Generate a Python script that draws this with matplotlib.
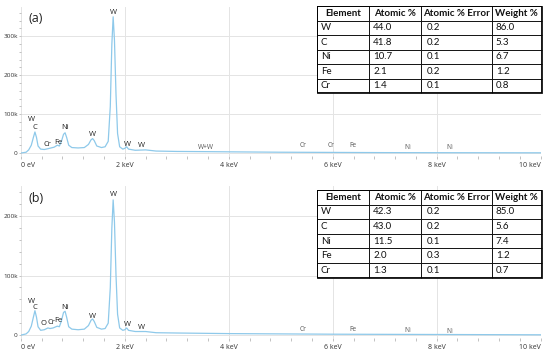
import numpy as np
import matplotlib
matplotlib.use("Agg")
import matplotlib.pyplot as plt
from matplotlib.patches import Rectangle

plt.rcParams['font.family'] = ['Open Sans', 'DejaVu Sans']

# ---- spectrum (a): energy in keV, counts in thousands
energy_a = [0.0, 0.1, 0.15, 0.2, 0.24, 0.27, 0.30, 0.33, 0.38, 0.45, 0.52, 0.58, 0.64,
            0.70, 0.74, 0.78, 0.82, 0.85, 0.88, 0.92, 0.98, 1.10, 1.22, 1.30, 1.35,
            1.38, 1.41, 1.46, 1.55, 1.62, 1.68, 1.72, 1.75, 1.775, 1.80, 1.83, 1.86,
            1.90, 1.96, 2.00, 2.035, 2.07, 2.2, 2.4, 2.6, 3.0, 3.55, 4.0, 5.0, 6.0,
            7.0, 8.0, 10.0]
counts_a = [0, 2, 8, 20, 40, 54, 40, 18, 10, 9, 11, 13, 15,
            20, 18, 30, 48, 52, 40, 20, 14, 13, 14, 22, 34,
            37, 32, 18, 14, 16, 30, 120, 280, 350, 290, 150, 50,
            16, 10, 12, 16, 10, 7, 8, 5, 4, 3.5, 3, 2, 1.5,
            1, 0.8, 0.5]

# ---- spectrum (b)
energy_b = [0.0, 0.1, 0.15, 0.2, 0.24, 0.27, 0.30, 0.33, 0.38, 0.45, 0.52, 0.56, 0.62,
            0.70, 0.74, 0.78, 0.82, 0.85, 0.88, 0.92, 0.98, 1.10, 1.22, 1.30, 1.35,
            1.38, 1.41, 1.46, 1.55, 1.62, 1.68, 1.72, 1.75, 1.775, 1.80, 1.83, 1.86,
            1.90, 1.96, 2.00, 2.035, 2.07, 2.2, 2.4, 2.6, 3.0, 4.0, 5.0, 6.0,
            8.0, 10.0]
counts_b = [0, 2, 6, 15, 30, 41, 30, 14, 8, 9, 12, 11, 12,
            15, 14, 24, 38, 40, 30, 14, 10, 9, 10, 16, 25,
            27, 23, 13, 10, 11, 20, 80, 180, 227, 190, 100, 35,
            12, 8, 9, 12, 8, 6, 6, 4, 3.5, 2.5, 2, 1.5,
            1, 0.5]

# ---- peak labels: text, keV, k counts, minor?
labels_a = [("W", 0.21, 85, 0), ("C", 0.27, 66, 0), ("Cr", 0.52, 23, 0), ("Fe", 0.72, 27, 0),
            ("Ni", 0.85, 66, 0), ("W", 1.38, 48, 0), ("W", 1.78, 360, 0), ("W", 2.05, 22, 0),
            ("W", 2.32, 18, 0), ("W+W", 3.56, 15, 1), ("Cr", 5.42, 19, 1), ("Cr", 5.96, 19, 1),
            ("Fe", 6.38, 19, 1), ("Ni", 7.44, 15, 1), ("Ni", 8.25, 15, 1)]
labels_b = [("W", 0.21, 57, 0), ("C", 0.27, 46, 0), ("O", 0.44, 20, 0), ("Cr", 0.58, 21, 0),
            ("Fe", 0.72, 24, 0), ("Ni", 0.85, 46, 0), ("W", 1.38, 32, 0), ("W", 1.78, 236, 0),
            ("W", 2.05, 17, 0), ("W", 2.32, 12, 0), ("Cr", 5.42, 10, 1),
            ("Fe", 6.38, 10, 1), ("Ni", 7.44, 8, 1), ("Ni", 8.25, 6, 1)]

# ---- tables
col_labels = ["Element", "Atomic %", "Atomic % Error", "Weight %"]
elements = ["W", "C", "Ni", "Fe", "Cr"]
atomic_a = ["44.0", "41.8", "10.7", "2.1", "1.4"]
error_a = ["0.2", "0.2", "0.1", "0.2", "0.1"]
weight_a = ["86.0", "5.3", "6.7", "1.2", "0.8"]
atomic_b = ["42.3", "43.0", "11.5", "2.0", "1.3"]
error_b = ["0.2", "0.2", "0.1", "0.3", "0.1"]
weight_b = ["85.0", "5.6", "7.4", "1.2", "0.7"]

xticks = [0, 2, 4, 6, 8, 10]
xticklabels = ["0 eV", "2 keV", "4 keV", "6 keV", "8 keV", "10 keV"]

line_col = "#8ec9ea"
grid_col = "#e4e4e4"
txt_col = "#333333"

fig = plt.figure(figsize=(5.5, 3.54), dpi=100)


def spectrum(rect, energy, counts, labels, ylim, yticks, tag):
    ax = fig.add_axes(rect)
    ax.plot(energy, np.array(counts) * 1000, color=line_col, lw=0.9)
    ax.set_xlim(0, 10)
    ax.set_ylim(ylim[0] * 1000, ylim[1] * 1000)
    ax.set_xticks(xticks)
    ax.set_xticklabels(xticklabels)
    ax.set_xticks(np.arange(0, 10.01, 0.4), minor=True)
    ax.set_yticks([t * 1000 for t in yticks])
    ax.set_yticklabels(["0" if t == 0 else "%dk" % t for t in yticks])
    ax.set_yticks(np.arange(0, ylim[1], 20) * 1000, minor=True)
    ax.grid(True, color=grid_col, lw=0.7)
    ax.set_axisbelow(True)
    for s in ax.spines.values():
        s.set_visible(False)
    ax.tick_params(axis='x', which='both', length=2, width=0.5, color="#aaaaaa",
                   labelsize=5, labelcolor=txt_col, pad=2)
    ax.tick_params(axis='y', which='both', length=1.2, width=0.5, color="#aaaaaa",
                   labelsize=4.6, labelcolor=txt_col, pad=1)
    tl = ax.get_xticklabels()
    tl[0].set_ha("left")
    tl[-1].set_ha("right")
    for t, x, y, minor in labels:
        ax.text(x, y * 1000, t, ha="center", va="center",
                fontsize=4.8 if minor else 5.5,
                color="#555555" if minor else "#222222")
    ax.text(0.15, ylim[1] * 1000 * 0.92, tag, fontsize=9, color="#222222",
            va="center", ha="left")
    return ax


spectrum([0.038, 0.559, 0.945, 0.421], energy_a, counts_a, labels_a,
         (-8, 375), [0, 100, 200, 300], "(a)")
spectrum([0.038, 0.045, 0.945, 0.429], energy_b, counts_b, labels_b,
         (-5, 250), [0, 100, 200], "(b)")


def table(rect, atomic, error, weight):
    tax = fig.add_axes(rect)
    tax.axis("off")
    rows = [[e, a, r, w] for e, a, r, w in zip(elements, atomic, error, weight)]
    tb = tax.table(cellText=rows, colLabels=col_labels, bbox=[0, 0, 1, 1],
                   colWidths=[0.232, 0.231, 0.315, 0.222], cellLoc="left")
    tb.auto_set_font_size(False)
    for (r, c), cell in tb.get_celld().items():
        cell.set_linewidth(0.6)
        cell.set_facecolor("white")
        cell.PAD = 0.08
        cell.get_text().set_fontsize(7)
        cell.get_text().set_fontfamily(["Lato", "DejaVu Sans"])
        cell.get_text().set_color("#111111")
        if r == 0:
            cell.get_text().set_fontweight("bold")
            cell.get_text().set_ha("center")
            cell._loc = "center"
    tax.add_patch(Rectangle((0, 0), 1, 1, transform=tax.transAxes, fill=False,
                            lw=1.3, color="black", zorder=5))


table([0.576, 0.737, 0.409, 0.246], atomic_a, error_a, weight_a)
table([0.576, 0.2155, 0.409, 0.248], atomic_b, error_b, weight_b)

fig.savefig("out.png", dpi=100)
